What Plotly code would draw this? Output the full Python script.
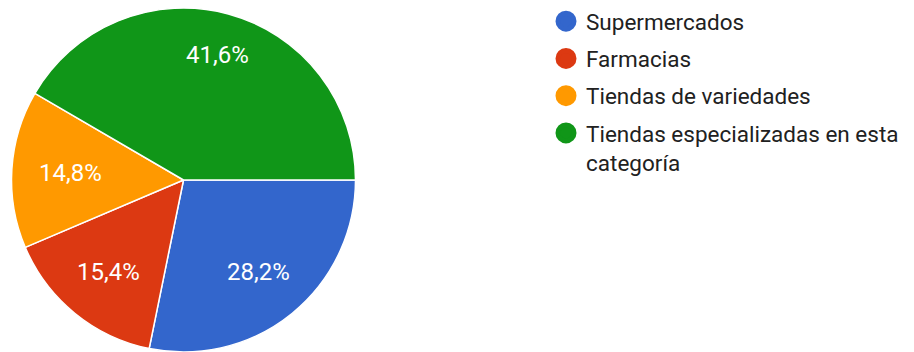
import math
import plotly.graph_objects as go

# Share of responses per store type (percent)
categories = ["Supermercados", "Farmacias", "Tiendas de variedades",
              "Tiendas especializadas en esta categoría"]
legend_labels = ["Supermercados", "Farmacias", "Tiendas de variedades",
                 "Tiendas especializadas en esta<br>categoría"]
shares = [28.2, 15.4, 14.8, 41.6]
colors = ["#3366CC", "#DC3912", "#FF9900", "#109618"]

W, H = 914, 352

# Pie placement in pixels
pie_left, pie_right = 11.5, 355.5
pie_top_px = 8
radius = (pie_right - pie_left) / 2
cx = (pie_left + pie_right) / 2
cy = pie_top_px + radius  # from the top edge

# Approximate half extents of a percentage label box (px)
label_half_w, label_half_h = 32, 9

fig = go.Figure()

fig.add_trace(go.Pie(
    labels=categories,
    values=shares,
    sort=False,
    direction="clockwise",
    rotation=90,
    marker=dict(colors=colors, line=dict(color="white", width=1.5)),
    textinfo="none",
    showlegend=False,
    hoverinfo="label+percent",
    domain=dict(x=[pie_left / W, pie_right / W],
                y=[(H - cy - radius) / H, (H - pie_top_px) / H]),
))

# Percentage labels on the middle angle of each slice, pushed out so the
# outer corner of the label box sits at a fixed fraction of the radius
total = sum(shares)
cum = 0.0
for v in shares:
    mid = (cum + v / 2) / total * 2 * math.pi  # clockwise from 3 o'clock
    cum += v
    c, s = math.cos(mid), math.sin(mid)
    reach = label_half_w * abs(c) + label_half_h * abs(s)
    dist = 0.85 * radius - reach
    px = cx + dist * c
    py = cy + dist * s
    fig.add_annotation(
        x=px / W, y=1 - py / H, xref="paper", yref="paper",
        text=f"{v / total * 100:.1f}%".replace(".", ","),
        showarrow=False,
        xanchor="center", yanchor="middle",
        font=dict(family="Roboto", size=24, color="white"),
    )

# Legend entries drawn as round markers
for name, col in zip(legend_labels, colors):
    fig.add_trace(go.Scatter(
        x=[None], y=[None],
        mode="markers",
        name=name,
        legendgroup=name,
        marker=dict(symbol="circle", size=16, color=col,
                    line=dict(color=col, width=5)),
        hoverinfo="skip",
    ))

fig.update_layout(
    width=W, height=H,
    margin=dict(l=0, r=0, t=0, b=0),
    paper_bgcolor="white",
    plot_bgcolor="white",
    separators=",.",
    xaxis=dict(visible=False),
    yaxis=dict(visible=False),
    legend=dict(
        x=546 / W, xanchor="left",
        y=1, yanchor="top",
        valign="top",
        tracegroupgap=5,
        font=dict(family="Roboto", size=22.5, color="#212121"),
        bgcolor="rgba(0,0,0,0)",
        borderwidth=0,
    ),
)

fig.write_html("out.html")
